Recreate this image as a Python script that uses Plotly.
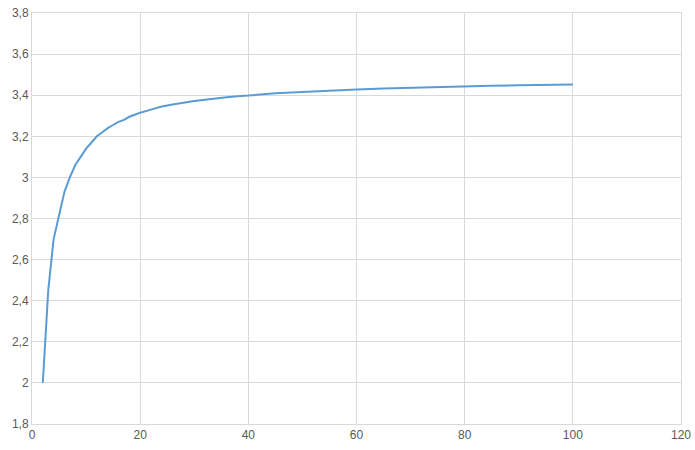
import plotly.graph_objects as go

# valeurs
x_vals = [2, 3, 4, 5, 6, 7, 8, 9, 10, 11, 12, 13, 14, 15, 16, 17, 18, 19, 20,
          22, 24, 26, 28, 30, 32, 34, 36, 38, 40, 45, 50, 55, 60, 65, 70, 75,
          80, 85, 90, 95, 100]
y_vals = [2.00, 2.45, 2.70, 2.82, 2.93, 3.00, 3.06, 3.10, 3.14, 3.17, 3.20,
          3.22, 3.24, 3.255, 3.27, 3.28, 3.295, 3.305, 3.315,
          3.33, 3.345, 3.355, 3.365, 3.372, 3.378, 3.385, 3.39, 3.395, 3.398,
          3.41, 3.417, 3.423, 3.428, 3.433, 3.437, 3.44,
          3.443, 3.446, 3.448, 3.45, 3.452]

grid_color = '#D9D9D9'
font_color = '#595959'

fig = go.Figure()
fig.add_trace(go.Scatter(
    x=x_vals, y=y_vals,
    mode='lines',
    line=dict(color='#5B9BD5', width=2),
    showlegend=False,
))

fig.update_layout(
    width=695,
    height=450,
    margin=dict(l=32, r=14, t=13, b=26),
    plot_bgcolor='white',
    paper_bgcolor='white',
    separators=',.',
    font=dict(family='Liberation Sans, Arial, sans-serif', size=12, color=font_color),
)

fig.update_xaxes(
    range=[0, 120], dtick=20, tick0=0,
    showgrid=True, gridcolor=grid_color, gridwidth=1,
    showline=True, linecolor=grid_color, linewidth=1, mirror=True,
    zeroline=False, ticks='', ticklen=0, automargin=False,
    ticklabeloverflow='allow',
)
fig.update_yaxes(
    range=[1.8, 3.8], dtick=0.2, tick0=1.8,
    showgrid=True, gridcolor=grid_color, gridwidth=1,
    showline=True, linecolor=grid_color, linewidth=1, mirror=True,
    zeroline=False, ticks='', ticklen=0, automargin=False,
    ticklabeloverflow='allow',
)

# pas de marge autour de la page, pas de barre d'outils
fig.write_html("out.html", config={'displayModeBar': False},
               post_script="document.body.style.margin='0';")
